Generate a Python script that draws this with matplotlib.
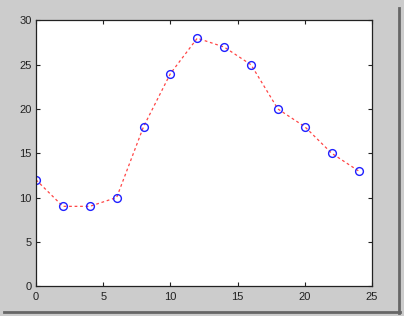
import matplotlib
matplotlib.use("Agg")
import matplotlib.pyplot as plt
from matplotlib.lines import Line2D

x_vals = [0, 2, 4, 6, 8, 10, 12, 14, 16, 18, 20, 22, 24]
y_vals = [12, 9, 9, 10, 18, 24, 28, 27, 25, 20, 18, 15, 13]
x_ticks = [0, 5, 10, 15, 20, 25]
y_ticks = [0, 5, 10, 15, 20, 25, 30]

plt.rcParams['font.family'] = ['Liberation Sans', 'DejaVu Sans']

fig = plt.figure(figsize=(4.04, 3.16), dpi=100, facecolor='#cccccc')
ax = fig.add_axes([36/404, 30/316, 336/404, 265.5/316])
ax.plot(x_vals, y_vals, linestyle=(0, (2.2, 2.2)), color='#ff4545', linewidth=0.9,
        marker='o', markersize=5.6, markerfacecolor='none', markeredgecolor='#2020ff',
        markeredgewidth=1.0)
ax.set_xlim(0, 25)
ax.set_ylim(0, 30)
ax.set_xticks(x_ticks)
ax.set_yticks(y_ticks)
ax.tick_params(direction='in', length=3, width=0.8, top=True, right=True,
               labelsize=8, colors='#222222')
ax.tick_params(axis='x', pad=4)
ax.tick_params(axis='y', pad=3)
for s in ax.spines.values():
    s.set_linewidth(0.9)
    s.set_color('#222222')

# screenshot frame shadow
fig.add_artist(Line2D([398.5/404, 398.5/404], [1 - 8/316, 1 - 313/316],
                      transform=fig.transFigure, color='#666666', linewidth=2.0))
fig.add_artist(Line2D([4/404, 399.5/404], [1 - 312/316, 1 - 312/316],
                      transform=fig.transFigure, color='#666666', linewidth=2.0))

fig.savefig('out.png', dpi=100, facecolor=fig.get_facecolor())
